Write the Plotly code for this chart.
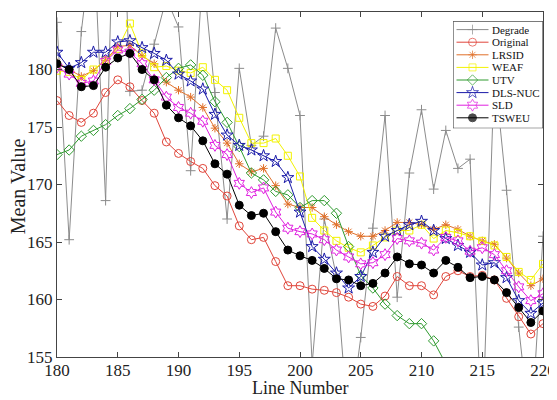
import plotly.graph_objects as go

line_number = list(range(180, 221))

degrade = [184.1, 165.2, 183.3, 192.0, 168.6, 208.0, 178.1, 178.2, 182.2, 186.2,
           183.7, 171.2, 188.7, 178.0, 167.0, 180.1, 173.4, 174.2, 183.6, 180.1,
           176.0, 154.4, 167.0, 162.0, 148.6, 156.7, 166.2, 176.0, 160.2, 171.0,
           176.5, 169.6, 174.7, 171.4, 172.2, 148.0, 180.0, 169.5, 157.6, 148.0,
           165.5]
original = [177.3, 176.0, 175.4, 176.2, 178.0, 179.1, 178.5, 177.3, 176.2, 173.7,
            172.7, 172.0, 171.4, 169.9, 169.0, 166.4, 165.2, 165.4, 163.3, 161.2,
            161.2, 160.9, 160.8, 160.6, 160.2, 159.6, 159.4, 160.3, 162.0, 161.2,
            161.2, 160.4, 162.0, 162.5, 162.0, 162.1, 161.7, 160.1, 158.5, 157.0,
            157.9]
lrsid = [180.6, 180.0, 179.4, 179.9, 180.8, 182.0, 182.1, 181.2, 180.5, 178.9,
         178.2, 177.6, 176.7, 174.9, 173.6, 171.8, 171.1, 171.4, 169.9, 168.3,
         168.0, 168.0, 167.2, 166.5, 165.9, 165.5, 165.5, 166.0, 166.7, 166.7,
         166.5, 166.1, 166.5, 166.1, 165.5, 165.1, 164.8, 163.6, 162.3, 161.2,
         161.8]
weaf = [179.9, 179.8, 179.1, 180.0, 180.8, 181.8, 184.0, 181.4, 180.2, 180.3,
        179.9, 179.7, 180.2, 179.1, 178.2, 175.8, 173.6, 173.6, 174.0, 172.5,
        170.7, 167.1, 166.0, 165.1, 164.5, 164.1, 164.7, 165.4, 166.0, 166.0,
        166.5, 165.3, 166.0, 165.8, 165.5, 165.1, 164.7, 163.7, 162.4, 161.7,
        163.1]
utv = [172.6, 173.0, 174.2, 174.7, 175.2, 176.0, 176.6, 177.4, 178.2, 179.3,
       180.1, 180.4, 179.5, 177.2, 175.4, 173.3, 171.0, 170.4, 169.4, 169.1,
       168.0, 168.6, 168.6, 167.5, 164.6, 162.1, 161.0, 159.6, 158.6, 157.9,
       157.9, 156.4, 154.4, None, None, None, None, None, None, None,
       None]
dls_nuc = [181.5, 180.1, 180.6, 181.5, 181.5, 182.4, 182.5, 181.9, 181.4, 180.8,
           179.6, 179.0, 178.3, 176.1, 174.3, 173.4, 173.0, 172.5, 172.0, 170.6,
           167.6, 164.6, 163.5, 162.3, 161.0, 162.0, 164.1, 165.5, 166.0, 166.5,
           166.8, 166.0, 165.3, 164.7, 164.1, 163.0, 163.2, 161.9, 159.9, 158.8,
           159.7]
sld = [180.2, 179.6, 178.8, 179.0, 180.7, 181.7, 181.5, 180.5, 179.1, 177.6,
       176.7, 176.2, 175.5, 173.4, 172.6, 170.1, 169.3, 169.7, 167.6, 166.2,
       165.9, 165.7, 165.2, 164.3, 163.7, 163.1, 163.2, 163.9, 165.3, 165.1,
       164.9, 164.3, 165.4, 165.1, 164.2, 164.5, 163.9, 162.5, 161.1, 159.9,
       160.5]
tsweu = [180.5, 180.0, 178.5, 178.6, 180.2, 181.0, 181.4, 180.0, 179.1, 176.9,
         175.8, 175.1, 173.8, 171.8, 170.9, 168.2, 167.3, 167.5, 165.9, 164.3,
         163.8, 163.4, 162.7, 161.8, 161.7, 161.2, 161.4, 162.3, 163.7, 163.1,
         163.0, 162.3, 163.4, 162.8, 161.9, 162.0, 161.7, 160.6, 159.3, 158.0,
         159.0]

x_ticks = [180, 185, 190, 195, 200, 205, 210, 215, 220]
y_ticks = [155, 160, 165, 170, 175, 180, 185]

series = [
    ("Degrade", degrade, "#8c8c8c", "cross-thin-open", 7),
    ("Original", original, "#e0453a", "circle-open", 8),
    ("LRSID", lrsid, "#e0702a", "asterisk-open", 7),
    ("WEAF", weaf, "#f2f200", "square-open", 7),
    ("UTV", utv, "#2e9a2e", "diamond-open", 8),
    ("DLS-NUC", dls_nuc, "#1a1aa8", "star-open", 9),
    ("SLD", sld, "#e020e0", "hexagram-open", 9),
    ("TSWEU", tsweu, "#000000", "circle", 8),
]

font_family = "Liberation Serif, Times New Roman, serif"
fig = go.Figure()
for name, vals, color, sym, size in series:
    fig.add_trace(go.Scatter(
        x=line_number, y=vals, name=name, mode="lines+markers",
        line=dict(color=color, width=1),
        marker=dict(symbol=sym, size=size, color=color,
                    line=dict(color=color, width=1)),
        connectgaps=False, showlegend=False, cliponaxis=True,
    ))

# Compact legend drawn as an inset subplot (box 90 x 107 px)
LEG_W, LEG_H, ROW0, ROW_STEP = 90, 107, 8.3, 12.6
annotations = []
for i, (name, vals, color, sym, size) in enumerate(series):
    yc = ROW0 + i * ROW_STEP
    fig.add_trace(go.Scatter(
        x=[3.5, 19.5, 35.5], y=[yc, yc, yc], mode="lines+markers",
        line=dict(color=color, width=1),
        marker=dict(symbol=sym, size=[0, size, 0], color=color,
                    line=dict(color=color, width=1)),
        xaxis="x2", yaxis="y2", showlegend=False, hoverinfo="skip",
    ))
    annotations.append(dict(
        x=36.5, y=yc, xref="x2", yref="y2", text=name, showarrow=False,
        xanchor="left", yanchor="middle",
        font=dict(family=font_family, size=11, color="#111111"),
    ))

# Axis titles
annotations.append(dict(
    x=0.5, y=0, xref="paper", yref="paper", text="Line Number", showarrow=False,
    xanchor="center", yanchor="middle", yshift=-31,
    font=dict(family=font_family, size=18, color="#222222"),
))
annotations.append(dict(
    x=0, y=0.495, xref="paper", yref="paper", text="Mean Value", showarrow=False,
    xanchor="center", yanchor="middle", xshift=-39, textangle=-90,
    font=dict(family=font_family, size=20, color="#222222"),
))

axis_common = dict(
    ticks="inside", ticklen=5, tickcolor="#444444", mirror="ticks",
    showline=True, linecolor="#444444", linewidth=1, showgrid=False,
    zeroline=False, tickfont=dict(size=17, family=font_family, color="#222222"),
    automargin=False,
)

# The page body adds an 8 px margin, so the figure is drawn 8 px smaller
# with correspondingly smaller left/top margins.
fig.update_layout(
    width=549, height=392,
    margin=dict(l=49, r=14, t=4, b=43),
    paper_bgcolor="white", plot_bgcolor="white",
    font=dict(family=font_family, color="#222222"),
    showlegend=False,
    annotations=annotations,
    xaxis=dict(range=[180, 220], tickvals=x_ticks,
               ticktext=[str(v) for v in x_ticks], ticklabelstandoff=-2,
               **axis_common),
    yaxis=dict(range=[155, 185], tickvals=y_ticks,
               ticktext=[str(v) for v in y_ticks], **axis_common),
    xaxis2=dict(domain=[(453 - 57) / 486, 1.0], range=[0, LEG_W], visible=False,
                anchor="y2", fixedrange=True),
    yaxis2=dict(domain=[(356.7 - 128) / 345, (356.7 - 21) / 345],
                range=[LEG_H, 0], visible=False, anchor="x2", fixedrange=True),
    shapes=[dict(type="rect", xref="x2", yref="y2", x0=0, x1=LEG_W, y0=0, y1=LEG_H,
                 line=dict(color="#222222", width=1), fillcolor="rgba(0,0,0,0)",
                 layer="above")],
)

fig.write_html("out.html")
